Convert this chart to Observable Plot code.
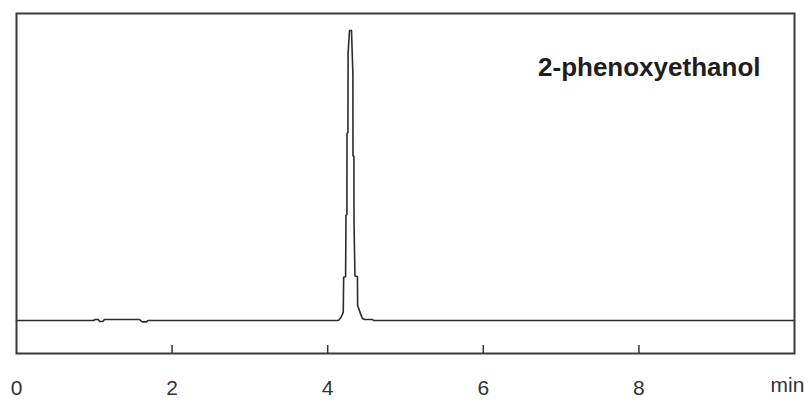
<!DOCTYPE html>
<html>
<head>
<meta charset="utf-8">
<script src="https://cdn.jsdelivr.net/npm/d3@7"></script>
<script src="https://cdn.jsdelivr.net/npm/@observablehq/plot@0.6"></script>
<style>
  html, body { margin: 0; padding: 0; background: #fff; }
  #chart svg { display: block; }
</style>
</head>
<body>
<div id="chart"></div>
<script>
// Retention time (min)
const time = [0, 0.99, 1.01, 1.05, 1.07, 1.11, 1.13, 1.58, 1.60, 1.62, 1.67, 1.69,
  4.12, 4.14, 4.17, 4.20, 4.205, 4.23, 4.235, 4.247, 4.248, 4.26, 4.262, 4.28, 4.306,
  4.324, 4.325, 4.337, 4.338, 4.35, 4.382, 4.385, 4.42, 4.447, 4.475, 4.576, 4.59, 10];
// Detector signal (relative)
const signal = [9.7, 9.7, 10.0, 10.0, 9.4, 9.4, 10.0, 10.0, 9.6, 9.3, 9.3, 9.7,
  9.7, 9.8, 10.6, 12.1, 22.4, 22.6, 40.6, 40.9, 64.7, 65.0, 88.2, 95.0, 95.0,
  82.0, 58.2, 57.9, 39.1, 22.9, 22.6, 14.1, 11.8, 10.3, 10.0, 10.0, 9.7, 9.7];
const tickValues = [2, 4, 6, 8];
const labelValues = [0, 2, 4, 6, 8];
const compound = "2-phenoxyethanol";
const unit = "min";

const trace = time.map((t, i) => ({t, v: signal[i]}));

const W = 808, H = 401;
const mL = 16, mR = 14, mT = 13, mB = 48;
const innerH = H - mT - mB;

const chart = Plot.plot({
  width: W,
  height: H,
  marginLeft: mL,
  marginRight: mR,
  marginTop: mT,
  marginBottom: mB,
  style: {background: "#fff", fontFamily: "'Liberation Sans', Arial, sans-serif", overflow: "visible"},
  x: {domain: [0, 10], axis: null},
  y: {domain: [0, 100], axis: null},
  marks: [
    Plot.line(trace, {x: "t", y: "v", stroke: "#2b2b2b", strokeWidth: 1.6}),
    Plot.tickX(tickValues, {x: d => d, stroke: "#333", strokeWidth: 1.5, insetTop: innerH - 8}),
    Plot.axisX(labelValues, {anchor: "bottom", label: null, tickSize: 0, tickPadding: 27, fontSize: 21, fill: "#333", tickFormat: d => String(d)}),
    Plot.frame({stroke: "#3a3a3a", strokeWidth: 2}),
    Plot.text([compound], {frameAnchor: "top-right", textAnchor: "end", lineAnchor: "top", dx: -34, dy: 44, fontSize: 26, fontWeight: "bold", fill: "#1e1e1e"}),
    Plot.text([unit], {frameAnchor: "bottom-right", textAnchor: "start", lineAnchor: "bottom", dx: -24, dy: 38, fontSize: 21, fill: "#333"})
  ]
});
document.getElementById("chart").appendChild(chart);
</script>
</body>
</html>
